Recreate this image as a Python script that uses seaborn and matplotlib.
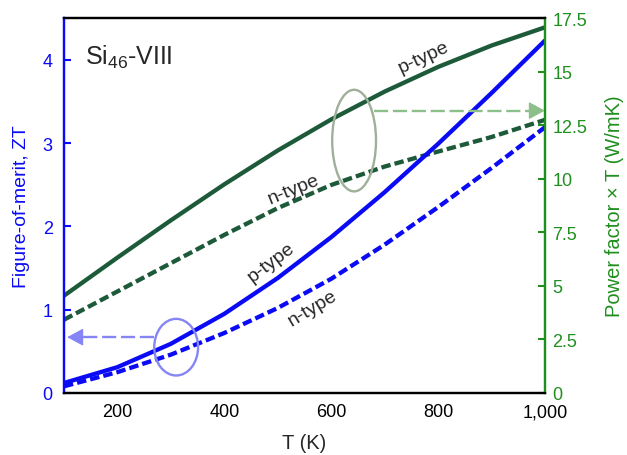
import matplotlib
matplotlib.use("Agg")
import matplotlib.pyplot as plt
from matplotlib.patches import Ellipse
from matplotlib.ticker import FuncFormatter
import seaborn as sns
import pandas as pd

# Temperature grid and thermoelectric properties of Si46-VIII
temperature = [100, 200, 300, 400, 500, 600, 700, 800, 900, 1000]
zt_p = [0.12, 0.31, 0.59, 0.95, 1.38, 1.87, 2.41, 2.99, 3.60, 4.23]
zt_n = [0.08, 0.25, 0.46, 0.72, 1.02, 1.37, 1.78, 2.23, 2.70, 3.19]
pft_p = [4.54, 6.32, 8.06, 9.74, 11.32, 12.77, 14.07, 15.22, 16.22, 17.07]
pft_n = [3.42, 4.74, 6.06, 7.38, 8.63, 9.71, 10.57, 11.27, 11.95, 12.75]

x_ticks = [200, 400, 600, 800, 1000]
zt_ticks = [0, 1, 2, 3, 4]
pft_ticks = [0, 2.5, 5, 7.5, 10, 12.5, 15, 17.5]

df = pd.DataFrame({"T": temperature, "zt_p": zt_p, "zt_n": zt_n,
                   "pft_p": pft_p, "pft_n": pft_n})

sns.set_style("white")
plt.rcParams["font.family"] = ["Liberation Sans", "DejaVu Sans"]
plt.rcParams["mathtext.default"] = "regular"

BLUE = "#0a0af5"
DKGREEN = "#1d5a3a"
AXGREEN = "#1f8f1f"
LTGREEN = "#8cbf8a"
LTBLUE = "#8585f5"
ELLGREEN = "#9fb09a"

fig = plt.figure(figsize=(6.27, 4.56), dpi=100)
ax = fig.add_axes([0.102, 0.136, 0.767, 0.822])
ax2 = ax.twinx()
ax.set_zorder(ax2.get_zorder() + 1)
ax.patch.set_visible(False)

lw = 3.1
dash = (0, (2.2, 0.95))

# power factor x T on the right axis
sns.lineplot(data=df, x="T", y="pft_p", ax=ax2, color=DKGREEN, lw=lw)
sns.lineplot(data=df, x="T", y="pft_n", ax=ax2, color=DKGREEN, lw=lw, linestyle=dash)
# figure of merit on the left axis
sns.lineplot(data=df, x="T", y="zt_p", ax=ax, color=BLUE, lw=lw)
sns.lineplot(data=df, x="T", y="zt_n", ax=ax, color=BLUE, lw=lw, linestyle=dash)

ax.set_xlim(100, 1000)
ax.set_ylim(0, 4.5)
ax2.set_ylim(0, 17.5)

ax.set_xticks(x_ticks)
ax.xaxis.set_major_formatter(FuncFormatter(lambda v, p: f"{v:,.0f}"))
ax.set_yticks(zt_ticks)
ax2.set_yticks(pft_ticks)
ax2.yaxis.set_major_formatter(FuncFormatter(lambda v, p: f"{v:g}"))

ax.set_xlabel("T (K)", fontsize=14.5, labelpad=9)
ax.set_ylabel("Figure-of-merit, ZT", fontsize=14, color=BLUE, labelpad=9)
ax2.set_ylabel("Power factor × T (W/mK)", fontsize=14.5, color=AXGREEN, labelpad=13)

ax.tick_params(axis="x", direction="in", length=5, width=1.5, labelsize=13,
               colors="black", pad=7.5)
ax.tick_params(axis="y", direction="in", length=5, width=1.5, labelsize=13,
               colors=BLUE, pad=8)
ax2.tick_params(axis="y", direction="in", length=5, width=1.5, labelsize=13,
                colors=AXGREEN, pad=5.5)

for a in (ax, ax2):
    for s in a.spines.values():
        s.set_linewidth(1.6)
    a.spines["top"].set_color("black")
    a.spines["bottom"].set_color("black")
    a.spines["left"].set_color(BLUE)
    a.spines["right"].set_color(AXGREEN)

# annotations
ax.text(140, 3.95, "Si$_{46}$-VIII", fontsize=18, va="baseline", ha="left")
ax.text(774, 4.03, "p-type", fontsize=14, rotation=25, ha="center", va="center")
ax.text(529, 2.45, "n-type", fontsize=14, rotation=22, ha="center", va="center")
ax.text(488, 1.57, "p-type", fontsize=14, rotation=37, ha="center", va="center")
ax.text(566, 1.02, "n-type", fontsize=14, rotation=31, ha="center", va="center")

# group markers pointing to the relevant axis
ax.add_patch(Ellipse((643, 3.03), 82, 1.22, fill=False, ec=ELLGREEN, lw=1.7, zorder=5))
ax.add_patch(Ellipse((310, 0.55), 82, 0.68, fill=False, ec=LTBLUE, lw=1.7, zorder=5))

head = "-|>,head_length=0.5,head_width=0.27"
ax.plot([680, 975], [3.39, 3.39], color=LTGREEN, lw=1.7, linestyle=(0, (6, 2)),
        zorder=5, clip_on=False)
ax.annotate("", xy=(1000, 3.39), xytext=(970, 3.39),
            arrowprops=dict(arrowstyle=head, mutation_scale=20,
                            color=LTGREEN, lw=1.0, shrinkA=0, shrinkB=0),
            zorder=5, annotation_clip=False)
ax.plot([268, 130], [0.67, 0.67], color=LTBLUE, lw=1.7, linestyle=(0, (6, 2)),
        zorder=5)
ax.annotate("", xy=(106, 0.67), xytext=(135, 0.67),
            arrowprops=dict(arrowstyle=head, mutation_scale=20,
                            color=LTBLUE, lw=1.0, shrinkA=0, shrinkB=0),
            zorder=5)

fig.savefig("out.png", dpi=100)
